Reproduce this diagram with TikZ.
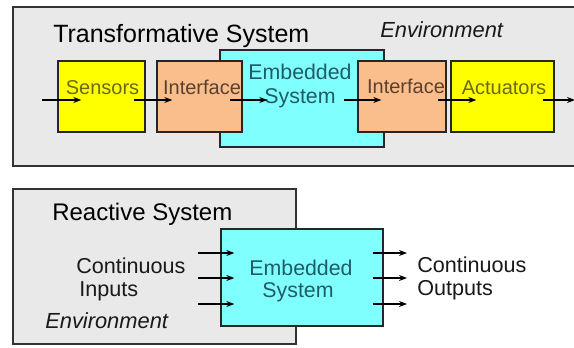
\documentclass[tikz,border=0pt]{standalone}
\usepackage{fontspec}
\setmainfont{Liberation Sans}
\usetikzlibrary{arrows.meta,calc}

\definecolor{envgray}{HTML}{E9E9E9}
\definecolor{sensyellow}{HTML}{FFFF00}
\definecolor{ifaceorange}{HTML}{FABE8C}
\definecolor{embcyan}{HTML}{80FFFF}
\definecolor{olivetext}{HTML}{6A6A12}
\definecolor{browntext}{HTML}{5C3F2C}
\definecolor{tealtext}{HTML}{1E5C66}

\begin{document}
\begin{tikzpicture}[x=0.75pt, y=-0.75pt, line join=miter,
    env/.style={draw=black!80, fill=envgray, line width=1.1pt},
    blk/.style={draw=black!85, line width=1pt, inner sep=0pt},
    sz/.style 2 args={minimum width=#1*0.75pt, minimum height=#2*0.75pt},
    lbl/.style={anchor=base, inner sep=0pt, font=\fontsize{15}{18}\selectfont},
    txt/.style={anchor=base west, inner sep=0pt, text=black!90, font=\fontsize{16.2}{19}\selectfont},
    ttl/.style={anchor=base west, inner sep=0pt, font=\fontsize{#1}{22}\selectfont},
    sig/.style={-{Stealth[length=6pt,width=4.5pt]}, line width=0.8pt}]
  \useasboundingbox[fill=white] (0,0) rectangle (574,347);

  % transformative system
  \draw[env] (13,7) rectangle (590,166);
  \node[ttl=18.75] (ttl1) at (53,42) {Transformative System};
  \node[txt, font=\fontsize{16.4}{19}\selectfont\itshape] (env1) at (380,37) {Environment};

  \node[blk, fill=embcyan, sz={164}{97}] (emb) at (302,98.5) {};
  \node[blk, fill=sensyellow, sz={87}{71}] (sens) at (101.5,96.5) {};
  \node[blk, fill=ifaceorange, sz={85}{71}] (intf1) at (199.5,96.5) {};
  \node[blk, fill=ifaceorange, sz={88}{71}] (intf2) at (402,96.5) {};
  \node[blk, fill=sensyellow, sz={103}{71}] (act) at (502.5,96.5) {};

  \node[lbl, text=olivetext] (sens-t) at (102.5,94) {Sensors};
  \node[lbl, text=browntext] (intf1-t) at (202,94) {Interface};
  \node[lbl, text=tealtext, font=\fontsize{16}{19}\selectfont] (emb-t1) at (300,79) {Embedded};
  \node[lbl, text=tealtext, font=\fontsize{16}{19}\selectfont] (emb-t2) at (300,103) {System};
  \node[lbl, text=browntext] (intf2-t) at (406,93) {Interface};
  \node[lbl, text=olivetext] (act-t) at (504,94) {Actuators};

  \coordinate (in1) at (42,100);
  \coordinate (out1) at (575,100);
  \draw[sig] (in1) -- ($(sens.west |- in1)+(24,0)$);
  \draw[sig] ($(sens.east |- in1)+(-12,0)$) -- ($(intf1.west |- in1)+(16,0)$);
  \draw[sig] ($(intf1.east |- in1)+(-13,0)$) -- ($(emb.west |- in1)+(48,0)$);
  \draw[sig] ($(emb.east |- in1)+(-41,0)$) -- ($(intf2.west |- in1)+(24,0)$);
  \draw[sig] ($(intf2.east |- in1)+(-9,0)$) -- ($(act.west |- in1)+(26,0)$);
  \draw[sig] ($(act.east |- in1)+(-12,0)$) -- (out1);

  % reactive system
  \draw[env] (13,189) rectangle (296,344);
  \node[ttl=18] (ttl2) at (52,220) {Reactive System};
  \node[txt] (cin1) at (76,273) {Continuous};
  \node[txt] (cin2) at (79,296) {Inputs};
  \node[txt, font=\fontsize{16.4}{19}\selectfont\itshape] (env2) at (45,328) {Environment};

  \node[blk, fill=embcyan, sz={162}{97}] (emb2) at (302,277.5) {};
  \node[lbl, text=tealtext, font=\fontsize{16}{19}\selectfont] (emb2-t1) at (301,275) {Embedded};
  \node[lbl, text=tealtext, font=\fontsize{16}{19}\selectfont] (emb2-t2) at (298,297) {System};

  \node[txt] (cout1) at (417,272) {Continuous};
  \node[txt] (cout2) at (417,295) {Outputs};

  \foreach \yy [count=\i] in {253,278,304} {
    \coordinate (in-\i) at (198,\yy);
    \coordinate (out-\i) at (407,\yy);
    \draw[sig] (in-\i) -- ($(emb2.west |- in-\i)+(14,0)$);
    \draw[sig] ($(emb2.east |- out-\i)+(-11,0)$) -- (out-\i);
  }
\end{tikzpicture}
\end{document}
